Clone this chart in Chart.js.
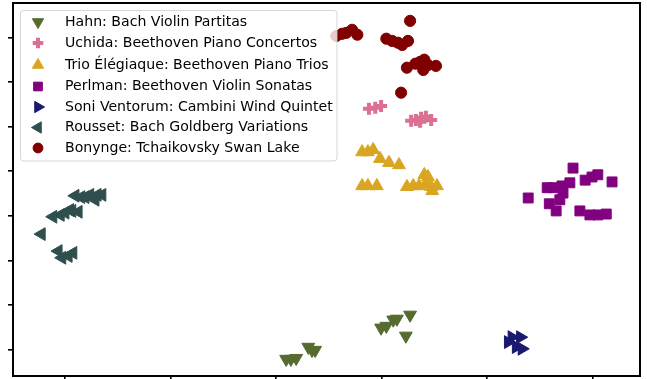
<!DOCTYPE html>
<html>
<head>
<meta charset="utf-8">
<script src="https://cdn.jsdelivr.net/npm/chart.js@4/dist/chart.umd.min.js"></script>
<style>
  html, body { margin: 0; padding: 0; background: #fff; }
  #wrap { width: 647px; height: 379px; }
</style>
</head>
<body>
<div id="wrap"><canvas id="c" width="647" height="379"></canvas></div>
<script>
// Embedding coordinates of recording segments, one list per performance.
const seriesNames = [
  'Hahn: Bach Violin Partitas',
  'Uchida: Beethoven Piano Concertos',
  'Trio Élégiaque: Beethoven Piano Trios',
  'Perlman: Beethoven Violin Sonatas',
  'Soni Ventorum: Cambini Wind Quintet',
  'Rousset: Bach Goldberg Variations',
  'Bonynge: Tchaikovsky Swan Lake'
];

const hahn = [
  [-18.1, -32.1], [-17.2, -32.1], [-16.2, -31.9], [-13.9, -29.4], [-13.2, -30.1],
  [-12.6, -30.1], [-0.1, -25.1], [0.9, -24.7], [2.2, -23.3], [2.9, -23.1],
  [5.4, -22.2], [4.6, -26.9]
];
const uchida = [
  [-2.4, 24.0], [-1.2, 24.2], [-0.1, 24.6], [5.6, 21.3], [6.5, 21.5],
  [7.5, 22.0], [8.4, 22.2], [9.4, 21.5], [7.3, 21.1]
];
const trio = [
  [-3.7, 14.3], [-2.6, 14.3], [-1.6, 14.8], [-0.3, 12.8], [1.4, 11.9], [3.3, 11.4],
  [-3.7, 6.7], [-2.6, 6.7], [-0.9, 6.7], [4.8, 6.5], [6.0, 6.7], [7.1, 6.7],
  [8.1, 9.2], [8.8, 8.7], [8.4, 7.2], [9.4, 6.5], [9.6, 5.6], [10.5, 6.7]
];
const perlman = [
  [27.8, 4.0], [31.4, 6.3], [32.5, 6.3], [34.2, 6.7], [35.7, 7.4], [36.3, 10.7],
  [38.6, 8.0], [39.9, 8.7], [41.0, 9.2], [43.7, 7.6], [31.8, 2.7], [33.1, 1.1],
  [33.8, 3.6], [34.4, 5.1], [37.6, 1.1], [39.5, 0.2], [41.0, 0.2], [42.6, 0.4]
];
const soni = [
  [24.0, -28.3], [24.7, -27.2], [26.3, -27.2], [25.5, -29.4], [26.6, -29.8]
];
const rousset = [
  [-58.1, 4.5], [-57.0, 4.2], [-56.2, 4.2], [-55.3, 4.7], [-54.3, 3.6], [-53.9, 4.7],
  [-53.0, 4.7], [-62.3, -0.2], [-60.9, 0.2], [-60.0, 0.7], [-59.1, 1.3], [-58.7, 1.1],
  [-57.5, 0.9], [-64.5, -4.1], [-61.3, -7.9], [-60.6, -9.4], [-59.4, -9.0], [-58.5, -8.3]
];
const bonynge = [
  [-8.6, 40.3], [-7.5, 40.8], [-6.7, 41.0], [-5.6, 41.7], [-4.6, 40.6], [5.4, 43.7],
  [0.9, 39.7], [2.0, 39.2], [3.1, 38.8], [3.9, 38.3], [5.0, 39.2], [4.8, 33.2],
  [6.4, 34.1], [7.3, 34.5], [8.1, 35.0], [7.9, 32.7], [8.8, 33.8], [10.3, 33.6],
  [3.7, 27.6]
];

const xTicks = [-60, -40, -20, 0, 20, 40];
const yTicks = [-30, -20, -10, 0, 10, 20, 30, 40];

const seriesData = [hahn, uchida, trio, perlman, soni, rousset, bonynge];

// Marker look for each series
const styles = [
  { color: '#556B2F', pointStyle: 'triangle', rotation: 180, radius: 7.4, borderWidth: 1 },
  { color: '#DB7093', pointStyle: 'cross',    rotation: 0,   radius: 6.0, borderWidth: 4 },
  { color: '#DAA520', pointStyle: 'triangle', rotation: 0,   radius: 7.4, borderWidth: 1 },
  { color: '#800080', pointStyle: 'rect',     rotation: 0,   radius: 7.0, borderWidth: 1 },
  { color: '#191970', pointStyle: 'triangle', rotation: 90,  radius: 7.4, borderWidth: 1 },
  { color: '#2F4F4F', pointStyle: 'triangle', rotation: 270, radius: 7.4, borderWidth: 1 },
  { color: '#800000', pointStyle: 'circle',   rotation: 0,   radius: 5.6, borderWidth: 1 }
];

const datasets = seriesData.map((pts, i) => ({
  label: seriesNames[i],
  data: pts.map(p => ({ x: p[0], y: p[1] })),
  pointStyle: styles[i].pointStyle,
  rotation: styles[i].rotation,
  pointRadius: styles[i].radius,
  pointHoverRadius: styles[i].radius,
  backgroundColor: styles[i].color,
  borderColor: styles[i].color,
  borderWidth: styles[i].borderWidth,
  order: seriesData.length - 1 - i
}));

// Frame around the plot area (all four sides)
const frame = {
  id: 'frame',
  afterDatasetsDraw(chart) {
    const { ctx, chartArea: a } = chart;
    ctx.save();
    ctx.strokeStyle = '#000';
    ctx.lineWidth = 2;
    ctx.strokeRect(a.left, a.top, a.right - a.left, a.bottom - a.top);
    ctx.restore();
  }
};

// Boxed legend in the upper-left corner of the plot
const boxLegend = {
  id: 'boxLegend',
  afterDraw(chart) {
    const ctx = chart.ctx;
    const box = { x: 20.5, y: 10.5, w: 316.5, h: 150.5, r: 3 };
    const rowY = [22, 43, 65, 86.5, 107, 127.5, 148];
    ctx.save();
    ctx.beginPath();
    ctx.moveTo(box.x + box.r, box.y);
    ctx.arcTo(box.x + box.w, box.y, box.x + box.w, box.y + box.h, box.r);
    ctx.arcTo(box.x + box.w, box.y + box.h, box.x, box.y + box.h, box.r);
    ctx.arcTo(box.x, box.y + box.h, box.x, box.y, box.r);
    ctx.arcTo(box.x, box.y, box.x + box.w, box.y, box.r);
    ctx.closePath();
    ctx.fillStyle = 'rgba(255,255,255,0.8)';
    ctx.fill();
    ctx.strokeStyle = 'rgba(204,204,204,0.8)';
    ctx.lineWidth = 1;
    ctx.stroke();

    ctx.font = '14.1px "DejaVu Sans"';
    ctx.textBaseline = 'middle';
    ctx.textAlign = 'left';
    chart.data.datasets.forEach((ds, i) => {
      const st = styles[i];
      ctx.fillStyle = st.color;
      ctx.strokeStyle = st.color;
      ctx.lineWidth = st.borderWidth;
      Chart.helpers.drawPoint(ctx, {
        pointStyle: st.pointStyle,
        radius: st.radius * 0.88,
        rotation: st.rotation,
        borderWidth: st.borderWidth
      }, 38, rowY[i]);
      ctx.fillStyle = '#000';
      ctx.fillText(ds.label, 65, rowY[i]);
    });
    ctx.restore();
  }
};

new Chart(document.getElementById('c'), {
  type: 'scatter',
  data: { datasets },
  plugins: [frame, boxLegend],
  options: {
    responsive: false,
    animation: false,
    devicePixelRatio: 1,
    layout: { autoPadding: false, padding: { left: 8, top: 3, right: 7, bottom: 0 } },
    plugins: { legend: { display: false }, tooltip: { enabled: false } },
    scales: {
      x: {
        type: 'linear',
        min: -69.9,
        max: 49.0,
        afterBuildTicks: s => { s.ticks = xTicks.map(v => ({ value: v })); },
        ticks: { display: false },
        border: { display: false },
        grid: { drawOnChartArea: false, drawTicks: true, tickLength: 3, color: '#000', lineWidth: 1.6 }
      },
      y: {
        type: 'linear',
        min: -35.9,
        max: 47.7,
        afterBuildTicks: s => { s.ticks = yTicks.map(v => ({ value: v })); },
        ticks: { display: false },
        border: { display: false },
        grid: { drawOnChartArea: false, drawTicks: true, tickLength: 5, color: '#000', lineWidth: 1.6 }
      }
    }
  }
});
</script>
</body>
</html>
